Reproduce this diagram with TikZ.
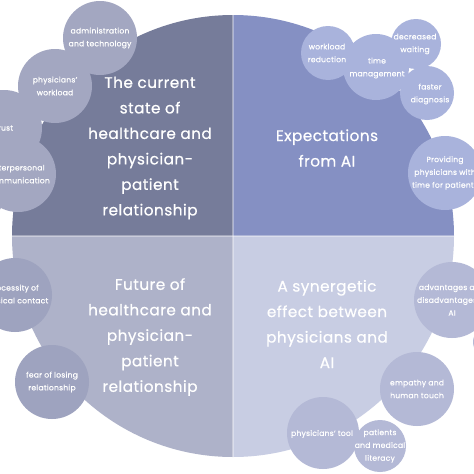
\documentclass[tikz,border=0pt]{standalone}
\usepackage{fontspec}
\setmainfont{Poppins}[LetterSpace=3, FakeBold=0.6]
\definecolor{qTL}{HTML}{767C9A}
\definecolor{qTR}{HTML}{8590C3}
\definecolor{qBL}{HTML}{AEB2C9}
\definecolor{qBR}{HTML}{C8CDE3}
\definecolor{bTL}{HTML}{A3A7C1}
\definecolor{bTR}{HTML}{A9B3DC}
\definecolor{bBL}{HTML}{9EA3BF}
\definecolor{bBR}{HTML}{B4B9D6}
\tikzset{
  quadtitle/.style={text=white, align=center, font=\fontsize{15.3}{25.5}\selectfont},
  bubble/.style={circle, inner sep=0pt},
  blabel/.style={inner sep=0pt, text=white, align=center,
    font=\fontsize{7.6}{12.8}\selectfont},
  divider/.style={draw=white, draw opacity=0.35, line width=1.5pt}
}
\begin{document}
\begin{tikzpicture}[x=1pt,y=-1pt]
\useasboundingbox (0,0) rectangle (474,474);
\fill[white] (0,0) rectangle (474,474);
\coordinate (C) at (233,236);
\begin{scope}
  \clip (C) circle[radius=221pt];
  \fill[qTL] (0,0) rectangle (C);
  \fill[qTR] (474,0) rectangle (C);
  \fill[qBL] (0,474) rectangle (C);
  \fill[qBR] (474,474) rectangle (C);
  \coordinate (vt) at (233,0);
  \coordinate (vb) at (233,474);
  \coordinate (hl) at (0,236);
  \coordinate (hr) at (474,236);
  \draw[divider] (vt) -- (vb);
  \draw[divider] (hl) -- (hr);
\end{scope}
% quadrant titles
\node[quadtitle] (tTL) at (150,148) {The current\\state of\\healthcare and\\physician-\\patient\\relationship};
\node[quadtitle] (tTR) at (327,148) {Expectations\\from AI};
\node[quadtitle] (tBL) at (150,337) {Future of\\healthcare and\\physician-\\patient\\relationship};
\node[quadtitle] (tBR) at (327,324) {A synergetic\\effect between\\physicians and\\AI};
% bubbles (fills)
\node[bubble, fill=bTL, minimum size=50pt] (bx) at (-22,198) {};
\node[bubble, fill=bTL, minimum size=76pt] (trust) at (4,128) {};
\node[bubble, fill=bTL, minimum size=76pt] (inter) at (18,174) {};
\node[bubble, fill=bTL, minimum size=74pt] (admin) at (100,38) {};
\node[bubble, fill=bTL, minimum size=74pt] (work) at (55,86) {};
\node[bubble, fill=bTR, minimum size=54pt] (wred) at (328,53) {};
\node[bubble, fill=bTR, minimum size=50pt] (dwait) at (416,44) {};
\node[bubble, fill=bTR, minimum size=54pt] (fdiag) at (427,93) {};
\node[bubble, fill=bTR, minimum size=66pt] (tman) at (376,67) {};
\node[bubble, fill=bTR, minimum size=74pt] (prov) at (445,173) {};
\node[bubble, fill=bBL, minimum size=74pt] (nec) at (15,295) {};
\node[bubble, fill=bBL, minimum size=74pt] (fear) at (52,382) {};
\node[bubble, fill=bBR, minimum size=30pt] (small) at (488,342) {};
\node[bubble, fill=bBR, minimum size=76pt] (adv) at (452,300) {};
\node[bubble, fill=bBR, minimum size=74pt] (emp) at (417,389) {};
\node[bubble, fill=bBR, minimum size=72pt] (tool) at (323,433) {};
\node[bubble, fill=bBR, minimum size=52pt] (pat) at (380,446) {};
% bubble labels
\node[blabel] (trust-t) at (trust) {trust};
\node[blabel] (inter-t) at (inter) {interpersonal\\communication};
\node[blabel] (admin-t) at (admin) {administration\\and technology};
\node[blabel] (work-t) at (work) {physicians'\\workload};
\node[blabel] (wred-t) at (327,53) {workload\\reduction};
\node[blabel] (dwait-t) at (415,44) {decreased\\waiting};
\node[blabel] (fdiag-t) at (430,94) {faster\\diagnosis};
\node[blabel] (tman-t) at (377,68) {time\\management};
\node[blabel] (prov-t) at (prov) {Providing\\physicians with\\time for patients};
\node[blabel] (nec-t) at (nec) {necessity of\\physical contact};
\node[blabel] (fear-t) at (fear) {fear of losing\\relationship};
\node[blabel] (adv-t) at (adv) {advantages and\\disadvantages of\\AI};
\node[blabel] (emp-t) at (emp) {empathy and\\human touch};
\node[blabel] (tool-t) at (322,434) {physicians' tool};
\node[blabel] (pat-t) at (pat) {patients\\and medical\\literacy};
\end{tikzpicture}
\end{document}
